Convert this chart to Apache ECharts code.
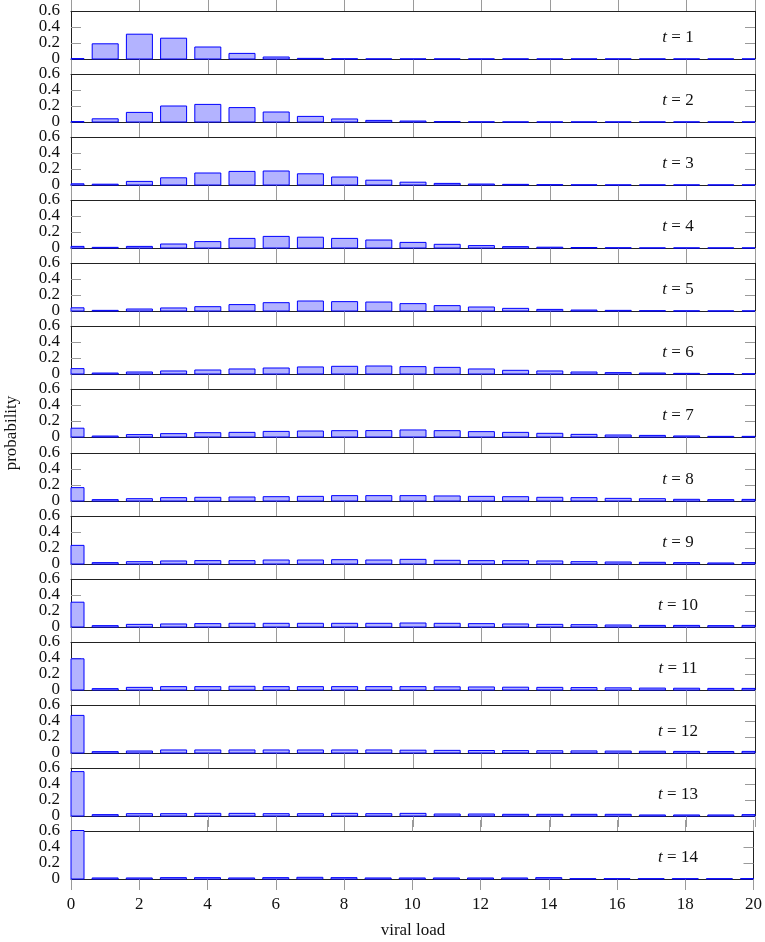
<!DOCTYPE html>
<html>
<head>
<meta charset="utf-8">
<script src="https://cdn.jsdelivr.net/npm/echarts@6/dist/echarts.min.js"></script>
<style>
html,body{margin:0;padding:0;background:#fff;}
#chart{width:765px;height:942px;}
</style>
</head>
<body>
<div id="chart"></div>
<script>
// ---- data ----
const xValues = [0,1,2,3,4,5,6,7,8,9,10,11,12,13,14,15,16,17,18,19,20];
const yTickValues = [0, 0.2, 0.4, 0.6];
const yTickLabels = ['0', '0.2', '0.4', '0.6'];
const timeLabels = [1,2,3,4,5,6,7,8,9,10,11,12,13,14];
const t1  = [0.005,0.19,0.31,0.26,0.15,0.07,0.025,0.008,0.003,0.001,0.001,0.001,0.001,0.001,0.001,0.001,0.001,0.001,0.001,0.001,0.001];
const t2  = [0.005,0.04,0.12,0.2,0.22,0.18,0.125,0.07,0.038,0.02,0.012,0.005,0.002,0.001,0.001,0.001,0.001,0.001,0.001,0.001,0.001];
const t3  = [0.015,0.01,0.045,0.09,0.15,0.17,0.175,0.14,0.1,0.06,0.035,0.02,0.012,0.008,0.004,0.002,0.001,0.001,0.001,0.001,0.001];
const t4  = [0.02,0.008,0.02,0.05,0.08,0.12,0.145,0.135,0.12,0.1,0.07,0.046,0.03,0.017,0.01,0.006,0.003,0.001,0.001,0.001,0.001];
const t5  = [0.04,0.008,0.025,0.038,0.054,0.08,0.104,0.125,0.117,0.112,0.092,0.067,0.05,0.033,0.02,0.012,0.008,0.004,0.002,0.001,0.001];
const t6  = [0.067,0.012,0.025,0.038,0.05,0.063,0.075,0.088,0.096,0.1,0.092,0.083,0.063,0.046,0.038,0.025,0.017,0.012,0.008,0.005,0.003];
const t7  = [0.11,0.012,0.03,0.042,0.054,0.058,0.07,0.075,0.079,0.08,0.088,0.079,0.067,0.058,0.046,0.033,0.025,0.02,0.013,0.008,0.008];
const t8  = [0.167,0.017,0.029,0.042,0.046,0.05,0.054,0.058,0.067,0.067,0.067,0.063,0.058,0.054,0.046,0.042,0.033,0.029,0.021,0.017,0.02];
const t9  = [0.233,0.017,0.029,0.038,0.042,0.042,0.05,0.05,0.054,0.05,0.058,0.046,0.042,0.042,0.038,0.029,0.025,0.021,0.017,0.013,0.017];
const t10 = [0.31,0.017,0.033,0.038,0.042,0.046,0.046,0.046,0.046,0.046,0.05,0.046,0.042,0.038,0.033,0.029,0.025,0.02,0.02,0.017,0.02];
const t11 = [0.39,0.017,0.033,0.042,0.042,0.046,0.042,0.042,0.042,0.042,0.042,0.04,0.038,0.035,0.033,0.03,0.027,0.024,0.022,0.02,0.02];
const t12 = [0.47,0.017,0.025,0.038,0.038,0.038,0.038,0.038,0.038,0.038,0.035,0.033,0.031,0.03,0.028,0.026,0.024,0.022,0.02,0.019,0.02];
const t13 = [0.555,0.017,0.029,0.029,0.033,0.033,0.029,0.029,0.033,0.029,0.033,0.025,0.025,0.021,0.021,0.021,0.021,0.013,0.013,0.013,0.017];
const t14 = [0.63,0.013,0.013,0.017,0.017,0.013,0.017,0.021,0.017,0.013,0.013,0.013,0.013,0.013,0.017,0.004,0.004,0.004,0.004,0.004,0.005];
const panels = [t1,t2,t3,t4,t5,t6,t7,t8,t9,t10,t11,t12,t13,t14];

// ---- layout / style ----
const FONT = '"Liberation Serif", "DejaVu Serif", serif';
const LEFT = 71, RIGHT = 10, TOP0 = 11, STEP = 63.08, PH = 48;
const BAR_W = 26;
const LINE = '#222';
const TICK = '#9a9a9a';

function renderBar(params, api) {
  const x = api.value(0), y = api.value(1);
  const p0 = api.coord([x, 0]);
  const p1 = api.coord([x, y]);
  const cs = params.coordSys;
  const rect = echarts.graphic.clipRectByRect(
    {x: p0[0] - BAR_W / 2, y: p1[1], width: BAR_W, height: p0[1] - p1[1]},
    {x: cs.x, y: cs.y - 0.5, width: cs.width, height: cs.height + 1}
  );
  if (!rect) return null;
  return {
    type: 'rect', shape: rect,
    style: {fill: '#b3b3ff', stroke: '#0000ff', lineWidth: 1}
  };
}

const grid = [], xAxis = [], yAxis = [], series = [], graphic = [];
const n = panels.length;
panels.forEach((vals, k) => {
  const top = Math.round(TOP0 + STEP * k);
  const last = (k === n - 1);
  grid.push({left: LEFT, right: RIGHT, top: top, height: PH, containLabel: false});
  xAxis.push({
    type: 'value', gridIndex: k, min: 0, max: 20, interval: 2, position: 'bottom', z: 3,
    axisLine: {show: true, onZero: false, lineStyle: {color: LINE, width: 1}},
    axisTick: {show: true, inside: false, length: 11, lineStyle: {color: TICK, width: 1}},
    axisLabel: {show: last, margin: 17, fontFamily: FONT, fontSize: 17, color: '#111',
      showMinLabel: true, showMaxLabel: true},
    splitLine: {show: false}
  });
  xAxis.push({
    type: 'value', gridIndex: k, min: 0, max: 20, interval: 2, position: 'top', z: 3,
    axisLine: {show: true, onZero: false, lineStyle: {color: LINE, width: 1}},
    axisTick: {show: true, inside: false, length: 11, lineStyle: {color: TICK, width: 1}},
    axisLabel: {show: false},
    splitLine: {show: false}
  });
  yAxis.push({
    type: 'value', gridIndex: k, min: 0, max: 0.6, interval: 0.2, position: 'left',
    axisLine: {show: true, onZero: false, lineStyle: {color: LINE, width: 1}},
    axisTick: {show: true, inside: true, length: 10, lineStyle: {color: TICK, width: 1}},
    axisLabel: {show: false},
    splitLine: {show: false}
  });
  yAxis.push({
    type: 'value', gridIndex: k, min: 0, max: 0.6, interval: 0.2, position: 'right',
    axisLine: {show: true, onZero: false, lineStyle: {color: LINE, width: 1}},
    axisTick: {show: true, inside: true, length: 10, lineStyle: {color: TICK, width: 1}},
    axisLabel: {show: false},
    splitLine: {show: false}
  });
  series.push({
    type: 'custom', xAxisIndex: 2 * k, yAxisIndex: 2 * k,
    renderItem: renderBar,
    encode: {x: 0, y: 1},
    data: xValues.map((x, i) => [x, vals[i]]),
    z: 5,
    animation: false
  });
  graphic.push({
    type: 'text', x: 678, y: top + 26.5,
    style: {
      text: '{i|t} = ' + timeLabels[k],
      align: 'center', verticalAlign: 'middle',
      font: '17px ' + FONT, fill: '#111',
      rich: {i: {fontStyle: 'italic', fontFamily: FONT, fontSize: 17, fill: '#111'}}
    }
  });
});

graphic.push({
  type: 'text', x: 413, y: 931,
  style: {text: 'viral load', align: 'center', verticalAlign: 'middle', font: '17px ' + FONT, fill: '#111'}
});
graphic.push({
  type: 'text', x: 12, y: 433, rotation: Math.PI / 2,
  style: {text: 'probability', align: 'center', verticalAlign: 'middle', font: '17px ' + FONT, fill: '#111'}
});

const chart = echarts.init(document.getElementById('chart'), null, {renderer: 'canvas'});
chart.setOption({
  backgroundColor: '#fff',
  animation: false,
  grid: grid, xAxis: xAxis, yAxis: yAxis, series: series, graphic: graphic
});

// y tick labels placed through the library's own scales
const allGraphic = graphic.slice();
panels.forEach((vals, k) => {
  yTickValues.forEach((v, j) => {
    const p = chart.convertToPixel({xAxisIndex: 2 * k, yAxisIndex: 2 * k}, [0, v]);
    allGraphic.push({
      type: 'text', x: p[0] - 11, y: p[1],
      style: {text: yTickLabels[j], align: 'right', verticalAlign: 'middle', font: '17px ' + FONT, fill: '#111'}
    });
  });
});
chart.setOption({graphic: allGraphic});
</script>
</body>
</html>
